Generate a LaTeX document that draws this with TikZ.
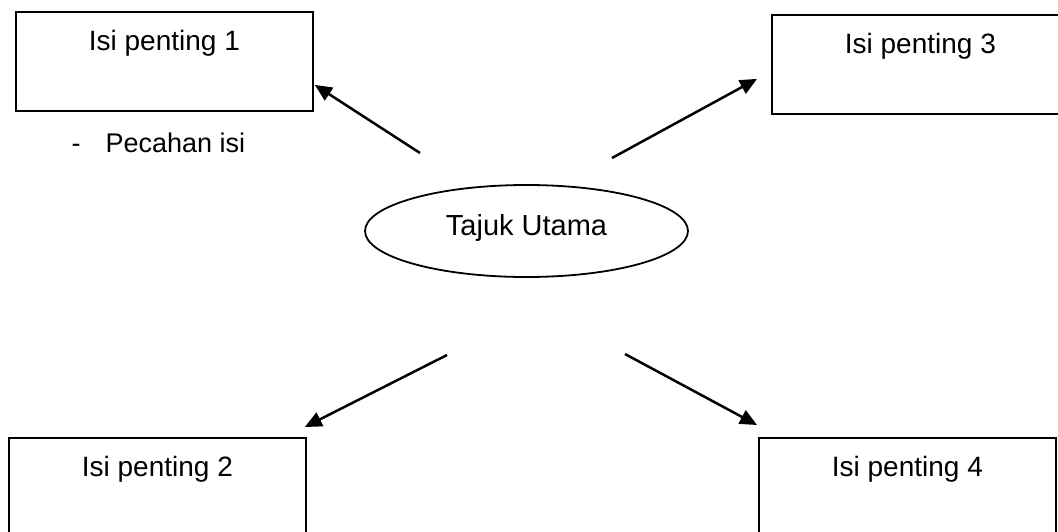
\documentclass[tikz,border=0pt]{standalone}
\usepackage{fontspec}
\setmainfont{Liberation Sans}
\usetikzlibrary{arrows.meta,shapes.geometric,calc}
\begin{document}
\begin{tikzpicture}[x=1pt,y=-1pt,
  box/.style={draw, line width=1.8pt, anchor=north west, inner sep=0pt,
    minimum width=297pt, text height=39pt, text depth=60pt,
    font=\fontsize{28}{34}\selectfont},
  hub/.style={draw, ellipse, line width=1.8pt, inner sep=0pt,
    minimum width=323pt, minimum height=92pt, text height=18pt, text depth=10pt,
    font=\fontsize{29}{35}\selectfont},
  arr/.style={line width=2.5pt, -{Triangle[length=17pt,width=15pt]}},
  note/.style={anchor=base west, inner sep=0pt, font=\fontsize{27}{33}\selectfont}]
\useasboundingbox (0,0) rectangle (1058,531);
\fill[white] (0,0) rectangle (1058,531);
\clip (0,0) rectangle (1058,531);

% central topic
\node[hub] (c) at (526.5,231) {Tajuk Utama};

% the four key points
\node[box] (b1) at (15,11)  {Isi penting 1};
\node[box] (b3) at (771,14) {Isi penting 3};
\node[box] (b2) at (8,437)  {Isi penting 2};
\node[box] (b4) at (758,437) {Isi penting 4};

% sub-point under the first box
\node[note] (n1) at (71.5,152) {-\hspace{25pt}Pecahan isi};

% arrow tails near the central topic
\coordinate (t1) at (420,153);
\coordinate (t3) at (612,158);
\coordinate (t2) at (447,355);
\coordinate (t4) at (625,354);

\draw[arr] (t1) -- ($(b1.east)+(1,23.5)$);
\draw[arr] (t3) -- ($(b3.west)+(-14,14.5)$);
\draw[arr] (t2) -- ($(b2.north east)+(-2,-10)$);
\draw[arr] (t4) -- ($(b4.north west)+(-1,-12)$);
\end{tikzpicture}
\end{document}
